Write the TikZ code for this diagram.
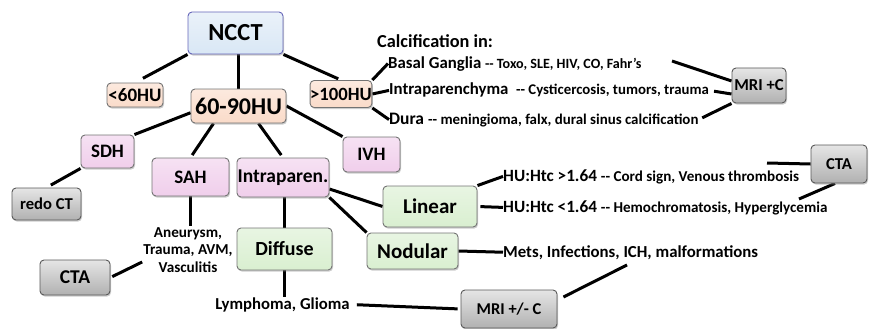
\documentclass[tikz,border=0pt]{standalone}
\usepackage{fontspec}
\setmainfont{Carlito}
\usetikzlibrary{calc,shadows,backgrounds}
\newcommand{\fsz}[1]{\fontsize{#1}{#1}\selectfont\bfseries}

\definecolor{headblue}{HTML}{D9E7F5}
\definecolor{peach}{HTML}{FADBC9}
\definecolor{orchid}{HTML}{F0CEEB}
\definecolor{mint}{HTML}{D9EFD0}
\definecolor{ash}{HTML}{D0D0D0}

\begin{document}
\begin{tikzpicture}[x=1pt, y=-1pt, % pixel grid, y going down
	card/.style={rounded corners=4pt, line width=0.9pt, inner sep=0pt, align=center,
		drop shadow={shadow xshift=1pt, shadow yshift=-1.6pt, opacity=0.4}},
	bluecard/.style={card, draw=black!45!blue!60, top color=headblue!55!white, bottom color=headblue},
	peachcard/.style={card, draw=black!55, top color=peach!60!white, bottom color=peach},
	pinkcard/.style={card, draw=black!55, top color=orchid!60!white, bottom color=orchid},
	greencard/.style={card, draw=black!55, top color=mint!60!white, bottom color=mint},
	graycard/.style={card, draw=black!65, top color=ash!55!white, bottom color=ash!85!black},
	link/.style={line width=3pt},
	lbl/.style={inner sep=0pt, anchor=base west}]

	\useasboundingbox (0,0) rectangle (870,329);

	% boxes
	\node[bluecard, font=\fsz{24.5}, minimum width=95pt, minimum height=42pt] (ncct) at (235.5,33) {NCCT};
	\node[peachcard, font=\fsz{19}, minimum width=56pt, minimum height=24pt] (lt60) at (135,95) {<60HU};
	\node[peachcard, font=\fsz{24}, minimum width=95pt, minimum height=34pt] (hu6090) at (238.5,106) {60-90HU};
	\node[peachcard, font=\fsz{18.7}, minimum width=56pt, minimum height=27pt] (gt100) at (341,94) {>100HU};
	\node[pinkcard, font=\fsz{19}, minimum width=53pt, minimum height=33pt] (sdh) at (107.5,151.5) {SDH};
	\node[pinkcard, font=\fsz{19}, minimum width=77pt, minimum height=38pt] (sah) at (190.5,177) {SAH};
	\node[pinkcard, font=\fsz{19.5}, minimum width=92pt, minimum height=39pt] (intrap) at (283,177.5) {Intraparen.};
	\node[pinkcard, font=\fsz{19}, minimum width=57pt, minimum height=35pt] (ivh) at (371.5,154.5) {IVH};
	\node[greencard, font=\fsz{21}, minimum width=94pt, minimum height=41pt] (linear) at (430,206.5) {Linear};
	\node[greencard, font=\fsz{21}, minimum width=91pt, minimum height=36pt] (nodular) at (412.5,251) {Nodular};
	\node[greencard, font=\fsz{20}, minimum width=95pt, minimum height=42pt] (diffuse) at (284.5,249) {Diffuse};
	\node[graycard, font=\fsz{16.6}, minimum width=69pt, minimum height=32pt] (redoct) at (46.5,204) {redo CT};
	\node[graycard, font=\fsz{19.5}, minimum width=70pt, minimum height=35pt] (ctaleft) at (75,277.5) {CTA};
	\node[graycard, font=\fsz{16.7}, minimum width=54pt, minimum height=35pt] (mric) at (759,85.5) {MRI +C};
	\node[graycard, font=\fsz{16.6}, minimum width=56pt, minimum height=38pt] (ctaright) at (839,164) {CTA};
	\node[graycard, font=\fsz{16.5}, minimum width=96pt, minimum height=38pt] (mripm) at (509,309) {MRI +/- C};

	% texts
	\node[lbl, font=\fsz{18.3}] (calcin) at (377,48) {Calcification in:};
	\node[lbl] (basal) at (388,68) {\fsz{16.8}Basal Ganglia {\fsz{14.1}-{}- Toxo, SLE, HIV, CO, Fahr's}};
	\node[lbl] (intra) at (389,95) {\fsz{16.8}Intraparenchyma\ \ {\fsz{14.8}-{}- Cysticercosis, tumors, trauma}};
	\node[lbl] (dura) at (389,124) {\fsz{17.5}Dura {\fsz{14.9}-{}- meningioma, falx, dural sinus calcification}};
	\node[lbl] (htchigh) at (503,181) {\fsz{17.2}HU:Htc >1.64 {\fsz{15.1}-{}- Cord sign, Venous thrombosis}};
	\node[lbl] (htclow) at (503,212) {\fsz{17.2}HU:Htc <1.64 {\fsz{15.1}-{}- Hemochromatosis, Hyperglycemia}};
	\node[lbl, font=\fsz{16.8}] (mets) at (503,257) {Mets, Infections, ICH, malformations};
	\node[inner sep=1pt, align=center, font=\fontsize{15.2}{17.8}\selectfont\bfseries] (sahcause) at (188,250) {Aneurysm,\\Trauma, AVM,\\Vasculitis};
	\node[lbl, anchor=base, font=\fsz{16.7}] (lymph) at (282.5,309) {Lymphoma, Glioma};

	\coordinate (basalend) at (672,61);
	\coordinate (ctaline) at (767,163);
	\coordinate (ctatail) at (799,199);
	\coordinate (ichend) at (627,265);

	% connectors
	\begin{scope}[on background layer]
		\draw[link, shorten >=9pt] (ncct.south west) -- (lt60.north);
		\draw[link] (hu6090.north |- ncct.south) -- (hu6090.north);
		\draw[link, shorten >=3pt] (ncct.south east) -- (gt100.north);
		\draw[link] (gt100.north east) -- (basal.west);
		\draw[link] (gt100.east) -- (intra.west);
		\draw[link] (gt100.south east) -- (dura.west);
		\draw[link] (basalend) -- ($(mric.west)+(0,-4.5)$);
		\draw[link, shorten <=5pt] (intra.east) -- ($(mric.west)+(0,8.5)$);
		\draw[link, shorten <=4pt] (dura.east) -- (mric.south west);
		\draw[link] (sdh.north east) -- (hu6090.188);
		\draw[link, shorten >=3pt] ($(hu6090.south)+(-25,0)$) -- (sah.north);
		\draw[link, shorten >=3pt] ($(hu6090.south)+(20,0)$) -- (intrap.north);
		\draw[link] (hu6090.east) -- (ivh.north west);
		\draw[link, shorten >=5pt] (sdh.south west) -- (redoct.north);
		\draw[link] (sah.south) -- (sah.south |- sahcause.north);
		\draw[link, shorten <=2pt] (ctaleft.east) -- ($(sahcause.west)+(0,12)$);
		\draw[link] (diffuse.north |- intrap.south) -- (diffuse.north);
		\draw[link] ($(intrap.east)+(0,11.5)$) -- (linear.west);
		\draw[link] (intrap.south east) -- (nodular.north west);
		\draw[link] (diffuse.south) -- (diffuse.south |- lymph.north);
		\draw[link, shorten <=7pt, shorten >=3pt] (lymph.east) -- (mripm.west);
		\draw[link] ($(mripm.east)+(6,-12)$) -- (ichend);
		\draw[link] (linear.north east) -- (htchigh.west);
		\draw[link, shorten <=3pt] (linear.east) -- (htclow.west);
		\draw[link] (nodular.east) -- (mets.west);
		\draw[link] (ctaline) -- (ctaright.west);
		\draw[link] ($(ctaright.south)+(-4,0)$) -- (ctatail);
	\end{scope}
\end{tikzpicture}
\end{document}
